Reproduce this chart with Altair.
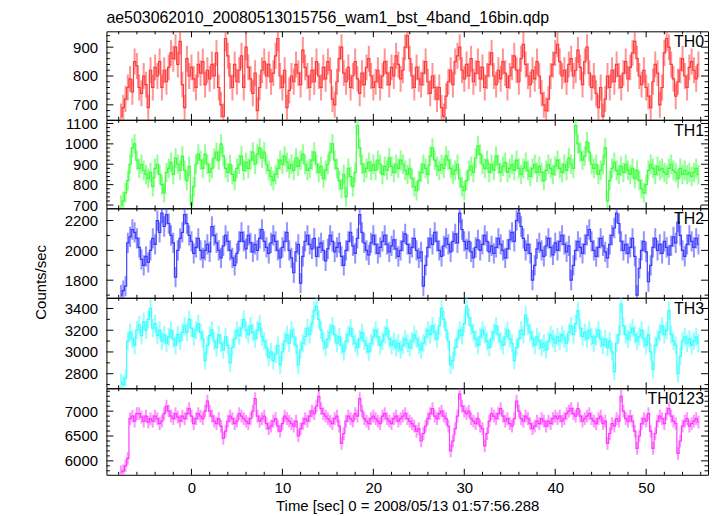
import math
import altair as alt
import pandas as pd

# ---------------- data (0.25 s bins, first bin centre -7.75 s) ----------------
T0 = -7.75
BIN = 0.25

TH0 = [
    660, 690, 720, 760, 790, 745, 850, 835, 760, 740, 800, 770, 690, 820, 760, 830,
    800, 850, 760, 820, 780, 830, 880, 860, 900, 840, 920, 770, 690, 860, 800, 830,
    790, 760, 840, 810, 850, 770, 820, 790, 840, 800, 880, 760, 700, 660, 930, 870,
    800, 760, 840, 780, 820, 870, 760, 900, 830, 790, 740, 810, 680, 760, 820, 850,
    800, 840, 780, 810, 870, 930, 800, 760, 820, 690, 750, 800, 780, 840, 810, 770,
    890, 830, 800, 760, 820, 780, 850, 800, 760, 830, 790, 850, 820, 720, 700, 780,
    860, 900, 810, 780, 830, 760, 800, 850, 790, 740, 810, 770, 830, 860, 800, 760,
    780, 820, 760, 800, 850, 810, 770, 830, 800, 870, 840, 790, 820, 900, 940, 860,
    800, 760, 830, 790, 770, 810, 850, 780, 740, 800, 760, 720, 760, 690, 660, 730,
    780, 820, 770, 850, 870, 900, 820, 790, 840, 800, 860, 780, 810, 850, 790, 830,
    760, 800, 840, 880, 800, 770, 820, 790, 850, 810, 760, 800, 830, 870, 820, 780,
    860, 910, 840, 800, 770, 820, 790, 850, 800, 740, 700, 680, 720, 800, 840, 880,
    910, 850, 800, 820, 780, 840, 860, 800, 820, 890, 830, 770, 850, 900, 810, 760,
    800, 740, 690, 760, 660, 720, 800, 760, 820, 780, 840, 800, 760, 810, 850, 790,
    830, 880, 920, 860, 800, 770, 820, 760, 730, 690, 780, 840, 810, 700, 760, 880,
    930, 900, 840, 790, 730, 780, 820, 860, 800, 760, 830, 850, 820, 790, 840,
]
TH1 = [
    700, 720, 760, 820, 900, 980, 1000, 920, 880, 900, 870, 850, 830, 860, 790, 880,
    900, 850, 800, 760, 860, 880, 910, 850, 930, 900, 870, 940, 870, 820, 890, 700,
    790, 900, 950, 920, 880, 950, 900, 860, 880, 930, 960, 920, 1000, 940, 880, 860,
    900, 850, 820, 880, 900, 940, 870, 910, 880, 920, 960, 900, 950, 980, 930, 960,
    900, 870, 840, 820, 850, 880, 920, 900, 940, 910, 880, 900, 870, 930, 890, 920,
    950, 900, 870, 880, 920, 960, 900, 860, 890, 830, 870, 900, 960, 1000, 920, 880,
    820, 780, 850, 740, 880, 840, 790, 860, 1090, 980, 900, 860, 880, 910, 870, 900,
    870, 920, 900, 850, 890, 870, 930, 890, 860, 900, 880, 920, 900, 870, 850, 880,
    830, 790, 770, 820, 860, 900, 880, 850, 940, 980, 920, 890, 870, 900, 880, 940,
    920, 880, 850, 870, 900, 830, 790, 770, 820, 870, 890, 860, 930, 990, 950, 900,
    880, 920, 860, 900, 870, 940, 900, 860, 890, 910, 860, 880, 900, 870, 920, 880,
    850, 880, 910, 870, 840, 880, 900, 860, 890, 860, 820, 870, 900, 880, 850, 890,
    920, 880, 860, 900, 870, 930, 900, 880, 1090, 1000, 960, 920, 940, 1010, 960, 900,
    880, 900, 850, 870, 900, 980, 720, 820, 880, 910, 870, 850, 890, 860, 900, 870,
    850, 880, 830, 870, 820, 780, 760, 800, 870, 900, 880, 850, 890, 870, 880, 860,
    850, 880, 900, 870, 860, 830, 880, 850, 870, 850, 860, 840, 860, 880, 850,
]
TH2 = [
    1700, 1730, 1760, 2050, 2090, 2140, 2120, 2080, 2020, 1940, 1900, 1960, 1920, 2000, 2080, 2040,
    2200, 2120, 2250, 2160, 2240, 2180, 2100, 2050, 1820, 2000, 2080, 2120, 2240, 2180, 2100, 2060,
    1980, 2020, 2080, 2000, 1950, 2000, 2040, 1990, 2160, 2100, 2050, 2000, 1950, 2030, 2100, 2060,
    2000, 1950, 1900, 1980, 2060, 2120, 2060, 2010, 2100, 2050, 1990, 2040, 2000, 2080, 2140, 2060,
    2020, 1980, 2050, 2100, 2060, 2000, 1950, 2020, 2060, 2120, 2000, 1950, 1850, 1990, 2040, 1780,
    1960, 2060, 2100, 2040, 2010, 2080, 1960, 2020, 2050, 2000, 1930, 2010, 2100, 2060, 1990, 2020,
    2050, 1960, 1900, 2000, 2060, 2120, 2030, 1980, 2080, 2240, 2120, 2050, 2000, 1970, 2050, 2100,
    2040, 1980, 2020, 2060, 2100, 2040, 1990, 2030, 2070, 2010, 1960, 2000, 2060, 2110, 2040, 1980,
    2020, 2080, 2000, 1950, 1990, 1760, 1900, 2020, 2080, 2040, 2120, 2060, 2000, 1960, 2030, 2080,
    2040, 1990, 2060, 2110, 2050, 2250, 2140, 2060, 2010, 2060, 1990, 1950, 2020, 2070, 2000, 2040,
    2100, 2060, 1990, 2030, 1980, 2020, 2080, 2040, 2000, 1950, 2010, 2070, 2120, 2060, 2200, 2250,
    2160, 2080, 2000, 2040, 1980, 1800, 1900, 2010, 2050, 2000, 1960, 2030, 2080, 2020, 1970, 2050,
    2000, 2060, 2100, 2040, 1990, 2030, 1800, 1900, 2000, 2060, 2020, 1980, 2040, 2100, 2140, 2060,
    2000, 1960, 2020, 2080, 2030, 1990, 1950, 2040, 2100, 2150, 2250, 2180, 2060, 2000, 2040, 1980,
    2020, 2080, 1960, 1700, 1880, 2000, 2060, 1990, 1790, 1900, 2020, 2080, 2000, 2040, 1980, 2060,
    2020, 1970, 2030, 2090, 2050, 2190, 2100, 2000, 1960, 2040, 2100, 2060, 2020, 2080, 2040,
]
TH3 = [
    2720, 2700, 2760, 3100, 3180, 3120, 3060, 3200, 3250, 3150, 3280, 3200, 3300, 3400, 3220, 3260,
    3150, 3200, 3100, 3160, 3080, 3140, 3200, 3120, 3060, 3160, 3100, 3180, 3240, 3180, 3300, 3220,
    3140, 3200, 3260, 3180, 3120, 2920, 3060, 3150, 3200, 3100, 3040, 3160, 3080, 3020, 3140, 3060,
    2900, 3040, 3120, 3200, 3150, 3220, 3300, 3200, 3160, 3240, 3180, 3120, 3200, 3260, 3140, 3100,
    3040, 2950, 3000, 2920, 2980, 3060, 2880, 3000, 3100, 3160, 3080, 3200, 3140, 3060, 2880, 3020,
    3080, 3140, 3220, 3160, 3260, 3380, 3420, 3300, 3200, 3100, 3040, 3120, 3180, 3240, 3160, 3080,
    3140, 3060, 3000, 3100, 3160, 3220, 3140, 3080, 3040, 3120, 3180, 3100, 3060, 3000, 3080, 3140,
    3200, 3140, 3060, 3100, 3160, 3220, 3120, 3060, 3100, 3040, 3080, 3020, 3060, 3120, 3080, 3040,
    3100, 3160, 3120, 3060, 3020, 3080, 3140, 3200, 3160, 3240, 3180, 3120, 3240, 3400, 3300, 3200,
    3100, 2880, 2920, 3040, 3120, 3200, 3150, 3260, 3420, 3320, 3240, 3180, 3120, 3060, 3140, 3200,
    3160, 3100, 3040, 3120, 3180, 3240, 3160, 3100, 3060, 3140, 3200, 3120, 3080, 2920, 3040, 3120,
    3200, 3160, 3340, 3240, 3180, 3120, 3060, 3140, 3100, 3040, 3080, 3020, 3100, 3160, 3120, 3080,
    3140, 3100, 3160, 3120, 3080, 3180, 3240, 3160, 3260, 3380, 3220, 3140, 3180, 3120, 3200, 3140,
    3080, 3140, 3200, 3120, 3060, 3120, 3040, 3100, 3000, 2820, 3080, 3160, 3440, 3240, 3160, 3120,
    3180, 3220, 3160, 3100, 3140, 3200, 3120, 3060, 3160, 3000, 2840, 3060, 3120, 3180, 3240, 3160,
    3200, 3380, 3160, 3100, 3060, 2800, 2960, 3100, 3140, 3080, 3120, 3060, 3100, 3140, 3080,
]
TH0123 = [
    5780, 5800, 5900, 6050, 6850, 6900, 6800, 6950, 6950, 6880, 6800, 6900, 6780, 6850, 6800, 6900,
    6850, 6750, 6800, 6950, 7100, 7000, 6900, 6850, 6950, 6880, 6800, 6900, 6850, 6950, 7050, 6900,
    6750, 6850, 6950, 6900, 6850, 7000, 7200, 7000, 6900, 6800, 6750, 6850, 6700, 6450, 6600, 6800,
    6900, 6850, 6750, 6800, 6950, 6900, 6850, 6800, 6750, 6850, 7000, 7250, 6900, 6800, 6850, 6900,
    6750, 6650, 6700, 6800, 6850, 6700, 6600, 6750, 6900, 6850, 6800, 6750, 6700, 6800, 6500, 6650,
    6750, 6850, 6800, 6900, 7000, 6950, 7100, 7300, 7050, 6950, 6900, 6850, 6800, 6750, 6850, 6900,
    6700, 6350, 6550, 6800, 6900, 6850, 6800, 6950, 6900, 7250, 7000, 6850, 6800, 6750, 6850, 6900,
    6850, 6800, 6750, 6900, 6950, 6850, 6800, 6750, 6850, 6900, 6800, 6850, 6900, 6950, 6850, 6800,
    6750, 6700, 6600, 6650, 6400, 6550, 6700, 6850, 6950, 7050, 6900, 6850, 6950, 7000, 6900, 6850,
    6700, 6200, 6400, 6650, 6900, 7350, 7100, 7000, 6950, 7000, 6850, 6800, 6750, 6850, 6700, 6650,
    6300, 6550, 6800, 6950, 6900, 6850, 6950, 7050, 6900, 6800, 6850, 6750, 6700, 6850, 7200, 7000,
    6850, 6800, 6900, 6850, 6750, 6650, 6700, 6800, 6750, 6850, 6800, 6700, 6800, 6750, 6850, 6900,
    6850, 6900, 6800, 6850, 6950, 7000, 7050, 6950, 6900, 7050, 6900, 6800, 6850, 6900, 6950, 6850,
    6800, 6750, 6850, 6900, 6750, 6800, 6350, 6550, 6750, 6700, 6850, 6800, 7300, 7000, 6850, 6800,
    6900, 6800, 6600, 6250, 6500, 6750, 6850, 6800, 6950, 6600, 6250, 6550, 6800, 6900, 6850, 6750,
    6950, 7050, 6900, 6800, 6750, 6150, 6400, 6700, 6800, 6850, 6700, 6750, 6800, 6850, 6780,
]

SERIES = [TH0, TH1, TH2, TH3, TH0123]
NAMES = ["TH0", "TH1", "TH2", "TH3", "TH0123"]
ERRS = [45, 48, 68, 82, 128]

# ---------------- axes / style ----------------
COLORS = ["#ff2a2a", "#2aff2a", "#2a2aff", "#2affff", "#ff2aff"]
Y_DOMAINS = [[648, 955], [684, 1118], [1682, 2282], [2666, 3498], [5720, 7460]]
Y_MAJOR = [[700, 800, 900], [700, 800, 900, 1000, 1100], [1800, 2000, 2200],
           [2800, 3000, 3200, 3400], [6000, 6500, 7000]]
Y_MINOR_STEP = [20, 20, 100, 100, 100]
HEIGHTS = [89, 89, 90, 91, 87]
X_DOMAIN = [-9.35, 56.8]
X_MAJOR = [0, 10, 20, 30, 40, 50]
X_MINOR = [-8, -6, -4, -2, 2, 4, 6, 8, 12, 14, 16, 18, 22, 24, 26, 28, 32, 34, 36, 38,
           42, 44, 46, 48, 52, 54, 56]
W = 605
FONT = "Liberation Sans"
TITLE = "ae503062010_20080513015756_wam1_bst_4band_16bin.qdp"
XTITLE = "Time [sec] 0 = 2008/05/13 01:57:56.288"
YTITLE = "Counts/sec"


def minor_ticks(k):
    lo, hi = Y_DOMAINS[k]
    s = Y_MINOR_STEP[k]
    v = math.ceil(lo / s) * s
    out = []
    while v < hi:
        if v not in Y_MAJOR[k]:
            out.append(v)
        v += s
    return out


def panel(k):
    vals = SERIES[k]
    e = ERRS[k]
    df = pd.DataFrame({
        "t": [T0 + BIN * i for i in range(len(vals))],
        "v": vals,
        "lo": [x - e for x in vals],
        "hi": [x + e for x in vals],
    })
    H = HEIGHTS[k]
    c = COLORS[k]
    xs = alt.Scale(domain=X_DOMAIN, nice=False, zero=False)
    ys = alt.Scale(domain=Y_DOMAINS[k], nice=False, zero=False)
    bottom = k == len(SERIES) - 1

    if bottom:
        X = alt.X("t:Q", scale=xs, axis=alt.Axis(
            values=X_MAJOR, ticks=False, domain=False, grid=False,
            labelPadding=6, format="d", title=XTITLE, titlePadding=3))
    else:
        X = alt.X("t:Q", scale=xs, axis=None)
    if k == 2:
        yaxis = alt.Axis(values=Y_MAJOR[k], ticks=False, domain=False, grid=False,
                         labelPadding=9, format="d", title=YTITLE,
                         titleX=-66, titleY=74, titleBaseline="middle")
    else:
        yaxis = alt.Axis(values=Y_MAJOR[k], ticks=False, domain=False, grid=False,
                         labelPadding=9, format="d", title=None)

    err = alt.Chart(df).mark_rule(color=c, opacity=0.5, strokeWidth=2, clip=True).encode(
        x=X,
        y=alt.Y("lo:Q", scale=ys, axis=yaxis),
        y2="hi:Q",
    )
    line = alt.Chart(df).mark_line(interpolate="step", color=c, strokeWidth=1.2,
                                   opacity=0.9, clip=True).encode(
        x=X,
        y=alt.Y("v:Q", scale=ys, axis=yaxis),
    )

    layers = [err, line]
    # inward ticks on the frame
    for vals_x, ln in [(X_MAJOR, 6), (X_MINOR, 3)]:
        d = pd.DataFrame({"t": vals_x})
        layers.append(alt.Chart(d).mark_rule(color="black", strokeWidth=1).encode(
            x=X, y=alt.value(H), y2=alt.value(H - ln)))
        layers.append(alt.Chart(d).mark_rule(color="black", strokeWidth=1).encode(
            x=X, y=alt.value(0), y2=alt.value(ln)))
    for vals_y, ln in [(Y_MAJOR[k], 7), (minor_ticks(k), 3.5)]:
        d = pd.DataFrame({"v": vals_y})
        Y = alt.Y("v:Q", scale=ys, axis=yaxis)
        layers.append(alt.Chart(d).mark_rule(color="black", strokeWidth=1).encode(
            y=Y, x=alt.value(0), x2=alt.value(ln)))
        layers.append(alt.Chart(d).mark_rule(color="black", strokeWidth=1).encode(
            y=Y, x=alt.value(W), x2=alt.value(W - ln)))

    lbl = alt.Chart(pd.DataFrame({"name": [NAMES[k]]})).mark_text(
        align="right", baseline="middle", fontSize=16, font=FONT, color="black"
    ).encode(x=alt.value(W - 4), y=alt.value(11), text="name:N")
    layers.append(lbl)

    ch = alt.layer(*layers).properties(width=W, height=H)
    if k == 0:
        ch = ch.properties(title=alt.TitleParams(TITLE, anchor="start", frame="group",
                                                 fontSize=16, fontWeight="normal",
                                                 font=FONT, offset=5, color="black"))
    return ch


chart = alt.vconcat(*[panel(k) for k in range(len(SERIES))], spacing=0,
                    bounds="flush").properties(
    padding={"left": 25, "top": 0, "right": 0, "bottom": 0}
).configure_view(
    stroke="black", strokeWidth=1
).configure_axis(
    labelFont=FONT, titleFont=FONT, labelFontSize=15, titleFontSize=15,
    titleFontWeight="normal", labelColor="black", titleColor="black"
).configure_concat(spacing=0)

chart.save("out.html", embed_options={"renderer": "svg", "actions": False})
